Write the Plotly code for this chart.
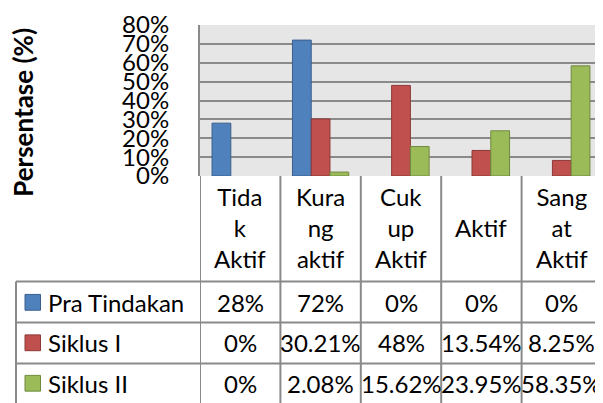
import plotly.graph_objects as go

categories = ["Tidak Aktif", "Kurang aktif", "Cukup Aktif", "Aktif", "Sangat Aktif"]
header_labels = ["Tida<br>k<br>Aktif", "Kura<br>ng<br>aktif", "Cuk<br>up<br>Aktif", "Aktif", "Sang<br>at<br>Aktif"]
series_names = ["Pra Tindakan", "Siklus I", "Siklus II"]
pra_tindakan = [28, 72, 0, 0, 0]
siklus_1 = [0, 30.21, 48, 13.54, 8.25]
siklus_2 = [0, 2.08, 15.62, 23.95, 58.35]
y_ticks = [0, 10, 20, 30, 40, 50, 60, 70, 80]

series_values = [pra_tindakan, siklus_1, siklus_2]
fill_colors = ["#4F81BD", "#C0504D", "#9BBB59"]
line_colors = ["#3A5F8C", "#8C3836", "#71893F"]

FONT = "Lato"
OFF = 8  # default page body margin offset
W, H = 603 - OFF, 403 - OFF
L, T = 200 - OFF, 23 - OFF
B = H - (176 - OFF)
R = W - (602 - OFF)
plot_h = H - T - B
plot_w = W - L - R


def py(px):
    # reference page pixel (y) -> paper coordinate
    return (176 - px) / plot_h


def pxx(px):
    # reference page pixel (x) -> paper coordinate
    return (px - 200) / plot_w


fig = go.Figure()
for name, vals, fc, lc in zip(series_names, series_values, fill_colors, line_colors):
    fig.add_trace(go.Bar(
        x=categories, y=vals, name=name,
        marker=dict(color=fc, line=dict(color=lc, width=[1 if v > 0 else 0 for v in vals])),
        showlegend=False,
    ))

grid = "#8A8A8A"
shapes = []
annotations = []
TF = 24

# table: vertical column lines (category boundaries)
for i in range(len(categories) + 1):
    shapes.append(dict(type="line", xref="x", yref="paper",
                       x0=i - 0.5, x1=i - 0.5, y0=0, y1=py(410),
                       line=dict(color=grid, width=2)))
# table: horizontal lines
for ypx in [283, 324.5, 366]:
    shapes.append(dict(type="line", xref="paper", yref="paper",
                       x0=pxx(16), x1=1, y0=py(ypx), y1=py(ypx),
                       line=dict(color=grid, width=2)))
# legend column left border
shapes.append(dict(type="line", xref="paper", yref="paper",
                   x0=pxx(16), x1=pxx(16), y0=py(283), y1=py(410),
                   line=dict(color=grid, width=2)))

# header labels
for cat, lab in zip(categories, header_labels):
    annotations.append(dict(xref="x", yref="paper", x=cat, y=py(228),
                            text=lab, showarrow=False, xanchor="center", yanchor="middle",
                            font=dict(family=FONT, size=TF, color="black")))

row_centers = [304, 345, 386]
for name, vals, fc, lc, yc in zip(series_names, series_values, fill_colors, line_colors, row_centers):
    # legend key
    shapes.append(dict(type="rect", xref="paper", yref="paper",
                       x0=pxx(25), x1=pxx(40.5), y0=py(yc - 8), y1=py(yc + 8),
                       fillcolor=fc, line=dict(color=lc, width=1)))
    annotations.append(dict(xref="paper", yref="paper", x=pxx(46), y=py(yc),
                            text=name, showarrow=False, xanchor="left", yanchor="middle",
                            font=dict(family=FONT, size=TF, color="black")))
    for cat, v in zip(categories, vals):
        annotations.append(dict(xref="x", yref="paper", x=cat, y=py(yc),
                                text=f"{v:g}%", showarrow=False, xanchor="center", yanchor="middle",
                                font=dict(family=FONT, size=TF, color="black")))

# y axis title
annotations.append(dict(xref="paper", yref="paper", x=pxx(23), y=py(112),
                        text="<b>Persentase (%)</b>", showarrow=False, textangle=-90,
                        xanchor="center", yanchor="middle",
                        font=dict(family=FONT, size=26, color="black")))

fig.update_layout(
    width=W, height=H,
    margin=dict(l=L, r=R, t=T, b=B, pad=0),
    paper_bgcolor="white",
    plot_bgcolor="#E6E6E6",
    barmode="group",
    bargap=0.3,
    bargroupgap=0,
    shapes=shapes,
    annotations=annotations,
    font=dict(family=FONT, size=TF, color="black"),
)
fig.update_xaxes(showticklabels=False, showgrid=False, zeroline=False,
                 showline=False, ticks="", range=[-0.5, 4.5])
fig.update_yaxes(range=[0, 80], tickvals=y_ticks,
                 ticktext=[f"{v}%" for v in y_ticks],
                 showgrid=True, gridcolor=grid, gridwidth=2,
                 zeroline=False, showline=True, linecolor=grid, linewidth=2,
                 ticks="", ticklabelstandoff=24, ticklabeloverflow="allow",
                 tickfont=dict(family=FONT, size=TF, color="black"))

fig.write_html("out.html")
